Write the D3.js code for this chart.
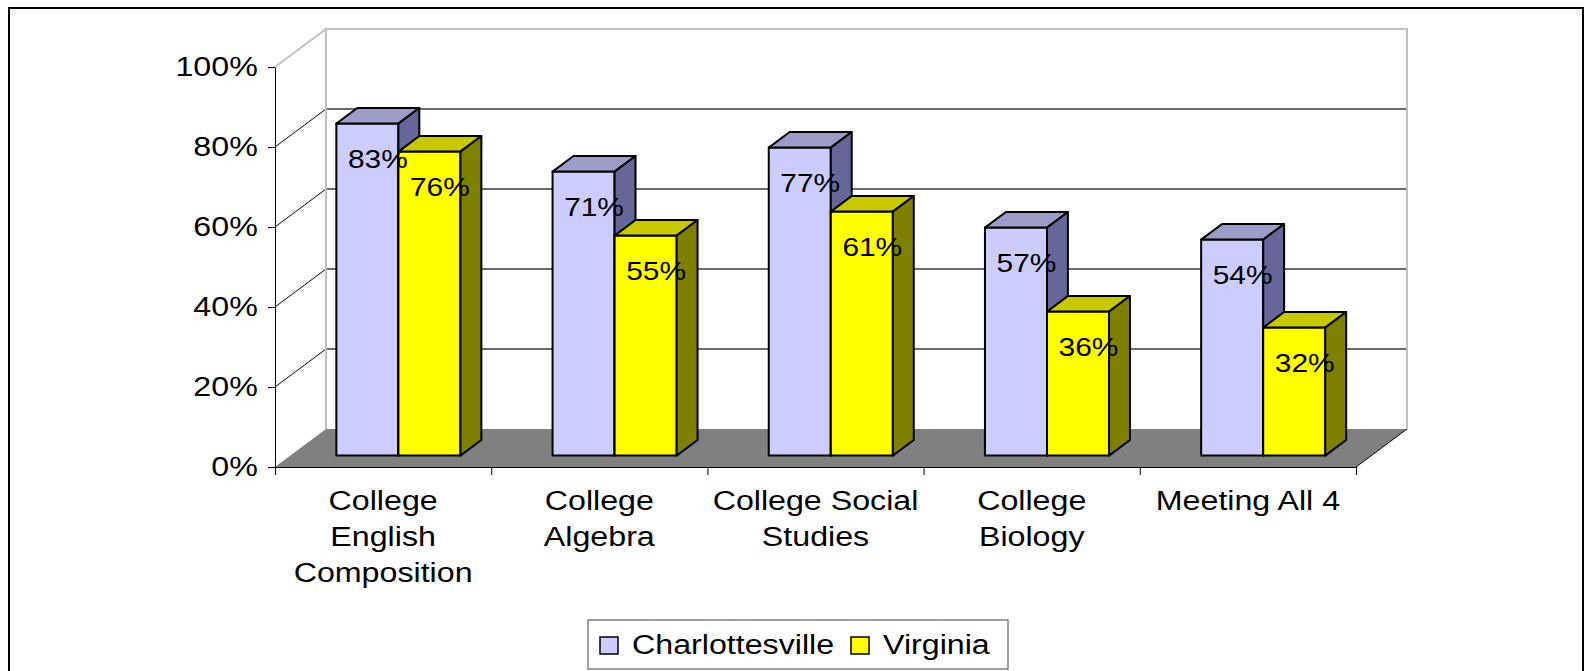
<!DOCTYPE html>
<html>
<head>
<meta charset="utf-8">
<script src="https://cdn.jsdelivr.net/npm/d3@7"></script>
<style>
  body { margin: 0; background: #fff; }
  svg { display: block; }
  text { font-family: "Liberation Sans", Arial, sans-serif; fill: #000; }
</style>
</head>
<body>
<script>
/**** chart data ****/
var categories = ["College\nEnglish\nComposition", "College\nAlgebra", "College Social\nStudies", "College\nBiology", "Meeting All 4"];
var seriesNames = ["Charlottesville", "Virginia"];
var charlottesville = [83, 71, 77, 57, 54];
var virginia = [76, 55, 61, 36, 32];
var yTicks = [0, 20, 40, 60, 80, 100];

/**** layout ****/
var width = 1592, height = 671;
var plotLeft = 275, plotRight = 1356, plotBottom = 467, plotTop = 67;
var DX = 51, DY = -38;          // depth vector of the 3d box
var barFront = 0.3, barDepth = 0.41; // where bars sit inside the depth
var stretch = 1.15;             // text in the original is a bit wide

var faceColors = {
  "Charlottesville": { front: "#ccccff", top: "#9c9cc8", side: "#666699" },
  "Virginia": { front: "#ffff00", top: "#c8c800", side: "#808000" }
};

var svg = d3.select("body").append("svg")
    .attr("width", width)
    .attr("height", height);

// outer frame
svg.append("rect")
    .attr("x", 9).attr("y", 8)
    .attr("width", 1574).attr("height", 700)
    .attr("fill", "#fff")
    .attr("stroke", "#000")
    .attr("stroke-width", 2);

var x = d3.scaleBand().domain(categories).range([plotLeft, plotRight]);
var bw = x.bandwidth();
var xs = d3.scaleBand().domain(seriesNames).range([bw * 0.213, bw * 0.787]);
var y = d3.scaleLinear().domain([0, 100]).range([plotBottom, plotTop]);

var line = d3.line();

/**** walls and floor ****/
// floor
svg.append("path")
    .attr("d", line([[plotLeft, y(0)], [plotRight, y(0)], [plotRight + DX, y(0) + DY], [plotLeft + DX, y(0) + DY]]) + "Z")
    .attr("fill", "#808080")
    .attr("stroke", "none");
svg.append("path")
    .attr("d", line([[plotRight, y(0)], [plotRight + DX, y(0) + DY]]))
    .attr("stroke", "#000").attr("fill", "none");

// back wall gridlines
svg.append("g").selectAll("line")
    .data(yTicks.filter(function(t) { return t > 0 && t < 100; }))
    .enter().append("line")
    .attr("x1", plotLeft + DX).attr("x2", plotRight + DX)
    .attr("y1", function(d) { return y(d) + DY; })
    .attr("y2", function(d) { return y(d) + DY; })
    .attr("stroke", "#3a3a3a")
    .attr("stroke-width", 1.3);

// side wall gridlines
svg.append("g").selectAll("line")
    .data(yTicks.filter(function(t) { return t > 0 && t < 100; }))
    .enter().append("line")
    .attr("x1", plotLeft).attr("x2", plotLeft + DX)
    .attr("y1", function(d) { return y(d); })
    .attr("y2", function(d) { return y(d) + DY; })
    .attr("stroke", "#000")
    .attr("stroke-width", 1);

// wall outline
svg.append("path")
    .attr("d", line([[plotLeft, y(100)], [plotLeft + DX, y(100) + DY], [plotLeft + DX, y(0) + DY]]) +
               line([[plotLeft + DX, y(100) + DY], [plotRight + DX, y(100) + DY], [plotRight + DX, y(0) + DY]]))
    .attr("fill", "none")
    .attr("stroke", "#c0c0c0")
    .attr("stroke-width", 2);

/**** axes ****/
var yAxis = svg.append("g")
    .attr("transform", "translate(" + plotLeft + ",0)")
    .call(d3.axisLeft(y).tickValues(yTicks).tickFormat(function(d) { return d + "%"; })
      .tickSize(7).tickSizeOuter(0).tickPadding(8));
yAxis.selectAll("text")
    .attr("font-size", 28)
    .attr("font-family", "Liberation Sans, Arial, sans-serif")
    .attr("transform", "scale(" + stretch + ",1)");
yAxis.attr("font-family", null);

var xLin = d3.scaleLinear().domain([0, categories.length]).range([plotLeft, plotRight]);
svg.append("g")
    .attr("transform", "translate(0," + plotBottom + ")")
    .call(d3.axisBottom(xLin).ticks(categories.length).tickFormat("").tickSize(8).tickSizeOuter(8));

// category labels
svg.append("g").selectAll("text")
    .data(categories)
    .enter().append("text")
    .attr("transform", function(d) { return "translate(" + (x(d) + bw / 2) + ",510) scale(" + stretch + ",1)"; })
    .attr("text-anchor", "middle")
    .attr("font-size", 28)
    .each(function(d) {
      var t = d3.select(this);
      d.split("\n").forEach(function(part, i) {
        t.append("tspan").attr("x", 0).attr("dy", i === 0 ? 0 : 36).text(part);
      });
    });

/**** bars ****/
var rows = [];
categories.forEach(function(c, i) {
  rows.push({ cat: c, series: "Charlottesville", value: charlottesville[i] });
  rows.push({ cat: c, series: "Virginia", value: virginia[i] });
});

var bdx = barDepth * DX, bdy = barDepth * DY;
var bars = svg.append("g").selectAll("g")
    .data(rows)
    .enter().append("g")
    .each(function(d) {
      var g = d3.select(this);
      var xl = x(d.cat) + xs(d.series) + barFront * DX;
      var w = xs.bandwidth();
      var yb = y(0) + barFront * DY;
      var yt = y(d.value) + barFront * DY;
      var col = faceColors[d.series];
      d.lx = xl + w / 2 + bdx / 2;
      d.ly = yt;
      g.append("path")
          .attr("d", line([[xl, yt], [xl + w, yt], [xl + w, yb], [xl, yb]]) + "Z")
          .attr("fill", col.front);
      g.append("path")
          .attr("d", line([[xl, yt], [xl + bdx, yt + bdy], [xl + w + bdx, yt + bdy], [xl + w, yt]]) + "Z")
          .attr("fill", col.top);
      g.append("path")
          .attr("d", line([[xl + w, yt], [xl + w + bdx, yt + bdy], [xl + w + bdx, yb + bdy], [xl + w, yb]]) + "Z")
          .attr("fill", col.side);
    });
bars.selectAll("path")
    .attr("stroke", "#000")
    .attr("stroke-width", 2)
    .attr("stroke-linejoin", "round");

// value labels
svg.append("g").selectAll("text")
    .data(rows)
    .enter().append("text")
    .attr("transform", function(d) { return "translate(" + d.lx + "," + (d.ly + 44) + ") scale(" + stretch + ",1)"; })
    .attr("text-anchor", "middle")
    .attr("font-size", 26)
    .text(function(d) { return d.value + "%"; });

/**** legend ****/
var legend = svg.append("g");
legend.append("rect")
    .attr("x", 588).attr("y", 620)
    .attr("width", 420).attr("height", 49)
    .attr("fill", "#fff")
    .attr("stroke", "#606060")
    .attr("stroke-width", 1.2);
var legendX = [600, 851];
seriesNames.forEach(function(s, i) {
  legend.append("rect")
      .attr("x", legendX[i]).attr("y", 637)
      .attr("width", 18).attr("height", 17)
      .attr("fill", faceColors[s].front)
      .attr("stroke", "#000")
      .attr("stroke-width", 1.5);
  legend.append("text")
      .attr("transform", "translate(" + (legendX[i] + 32) + ",654) scale(" + stretch + ",1)")
      .attr("font-size", 28)
      .text(s);
});
</script>
</body>
</html>
